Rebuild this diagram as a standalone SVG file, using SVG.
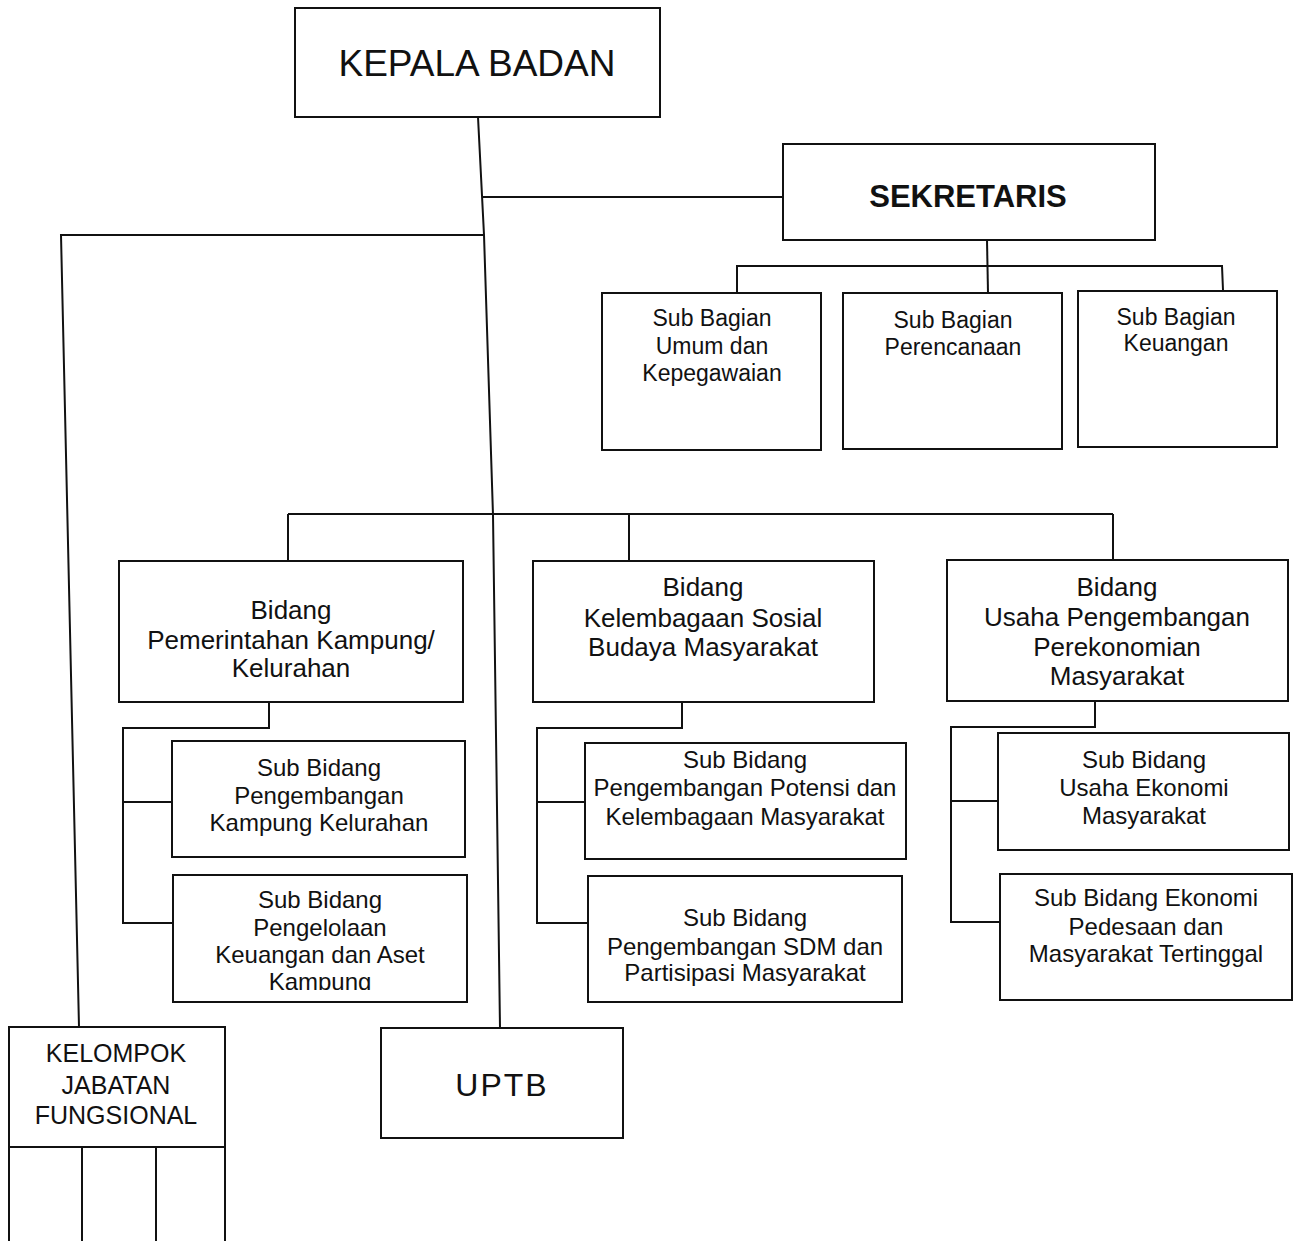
<svg xmlns="http://www.w3.org/2000/svg" width="1299" height="1241" viewBox="0 0 1299 1241">
<style>
.box{fill:#fff;stroke:#111;stroke-width:2}
.ln{fill:none;stroke:#111;stroke-width:2}
text{font-family:"Liberation Sans",Arial,sans-serif;fill:#111;text-anchor:middle}
.big{font-size:37px}
.sek{font-size:31px;font-weight:bold}
.bid{font-size:26px}
.sub{font-size:24px}
.sb{font-size:23px}
.kel{font-size:25px}
.up{font-size:32px;letter-spacing:2px}
</style>
<defs>
<clipPath id="cutK"><rect x="170" y="870" width="300" height="120"/></clipPath>
</defs>
<rect width="1299" height="1241" fill="#fff"/>
<g id="connectors">
<polyline class="ln" points="478,117 484,235 493,515 500,1028"/>
<line class="ln" x1="482" y1="197" x2="783" y2="197"/>
<polyline class="ln" points="484,235 61,235 79,1027"/>
<line class="ln" x1="987" y1="240" x2="988" y2="293"/>
<polyline class="ln" points="737,293 737,266 1222,266 1223,290"/>
<line class="ln" x1="288" y1="514" x2="1113" y2="514"/>
<line class="ln" x1="288" y1="514" x2="288" y2="561"/>
<line class="ln" x1="629" y1="514" x2="629" y2="561"/>
<line class="ln" x1="1113" y1="514" x2="1113" y2="560"/>
<polyline class="ln" points="269,702 269,728 123,728 123,923 173,923"/>
<line class="ln" x1="123" y1="802" x2="172" y2="802"/>
<polyline class="ln" points="682,702 682,728 537,728 537,923 588,923"/>
<line class="ln" x1="537" y1="802" x2="585" y2="802"/>
<polyline class="ln" points="1095,701 1095,727 951,727 951,922 1000,922"/>
<line class="ln" x1="951" y1="801" x2="998" y2="801"/>
<line class="ln" x1="82" y1="1147" x2="82" y2="1241"/>
<line class="ln" x1="156" y1="1147" x2="156" y2="1241"/>
<line class="ln" x1="9" y1="1147" x2="9" y2="1241"/>
<line class="ln" x1="225" y1="1147" x2="225" y2="1241"/>
</g>
<g id="kepala"><rect class="box" x="295" y="8" width="365" height="109"/><text class="big" x="477" y="76">KEPALA BADAN</text></g>
<g id="sekretaris"><rect class="box" x="783" y="144" width="372" height="96"/><text class="sek" x="968" y="207">SEKRETARIS</text></g>
<g id="sb-umum"><rect class="box" x="602" y="293" width="219" height="157"/>
<text class="sb" x="712" y="326">Sub Bagian</text><text class="sb" x="712" y="354">Umum dan</text><text class="sb" x="712" y="381">Kepegawaian</text></g>
<g id="sb-perencanaan"><rect class="box" x="843" y="293" width="219" height="156"/>
<text class="sb" x="953" y="328">Sub Bagian</text><text class="sb" x="953" y="355">Perencanaan</text></g>
<g id="sb-keuangan"><rect class="box" x="1078" y="291" width="199" height="156"/>
<text class="sb" x="1176" y="325">Sub Bagian</text><text class="sb" x="1176" y="351">Keuangan</text></g>
<g id="bidang-pemerintahan"><rect class="box" x="119" y="561" width="344" height="141"/>
<text class="bid" x="291" y="619">Bidang</text><text class="bid" x="291" y="649">Pemerintahan Kampung/</text><text class="bid" x="291" y="677">Kelurahan</text></g>
<g id="bidang-kelembagaan"><rect class="box" x="533" y="561" width="341" height="141"/>
<text class="bid" x="703" y="596">Bidang</text><text class="bid" x="703" y="627">Kelembagaan Sosial</text><text class="bid" x="703" y="656">Budaya Masyarakat</text></g>
<g id="bidang-usaha"><rect class="box" x="947" y="560" width="341" height="141"/>
<text class="bid" x="1117" y="596">Bidang</text><text class="bid" x="1117" y="626">Usaha Pengembangan</text><text class="bid" x="1117" y="656">Perekonomian</text><text class="bid" x="1117" y="685">Masyarakat</text></g>
<g id="sub-pengembangan-kampung"><rect class="box" x="172" y="741" width="293" height="116"/>
<text class="sub" x="319" y="776">Sub Bidang</text><text class="sub" x="319" y="804">Pengembangan</text><text class="sub" x="319" y="831">Kampung Kelurahan</text></g>
<g id="sub-pengelolaan-keuangan"><rect class="box" x="173" y="875" width="294" height="127"/>
<text class="sub" x="320" y="908">Sub Bidang</text><text class="sub" x="320" y="936">Pengelolaan</text><text class="sub" x="320" y="963">Keuangan dan Aset</text><text class="sub" x="320" y="990" clip-path="url(#cutK)">Kampung</text></g>
<g id="sub-potensi"><rect class="box" x="585" y="743" width="321" height="116"/>
<text class="sub" x="745" y="768">Sub Bidang</text><text class="sub" x="745" y="796">Pengembangan Potensi dan</text><text class="sub" x="745" y="825">Kelembagaan Masyarakat</text></g>
<g id="sub-sdm"><rect class="box" x="588" y="876" width="314" height="126"/>
<text class="sub" x="745" y="926">Sub Bidang</text><text class="sub" x="745" y="955">Pengembangan SDM dan</text><text class="sub" x="745" y="981">Partisipasi Masyarakat</text></g>
<g id="sub-usaha-ekonomi"><rect class="box" x="998" y="733" width="291" height="117"/>
<text class="sub" x="1144" y="768">Sub Bidang</text><text class="sub" x="1144" y="796">Usaha Ekonomi</text><text class="sub" x="1144" y="824">Masyarakat</text></g>
<g id="sub-ekonomi-pedesaan"><rect class="box" x="1000" y="874" width="292" height="126"/>
<text class="sub" x="1146" y="906">Sub Bidang Ekonomi</text><text class="sub" x="1146" y="935">Pedesaan dan</text><text class="sub" x="1146" y="962">Masyarakat Tertinggal</text></g>
<g id="kelompok"><rect class="box" x="9" y="1027" width="216" height="120"/>
<text class="kel" x="116" y="1062">KELOMPOK</text><text class="kel" x="116" y="1094">JABATAN</text><text class="kel" x="116" y="1124">FUNGSIONAL</text></g>
<g id="uptb"><rect class="box" x="381" y="1028" width="242" height="110"/><text class="up" x="502" y="1096">UPTB</text></g>
</svg>
